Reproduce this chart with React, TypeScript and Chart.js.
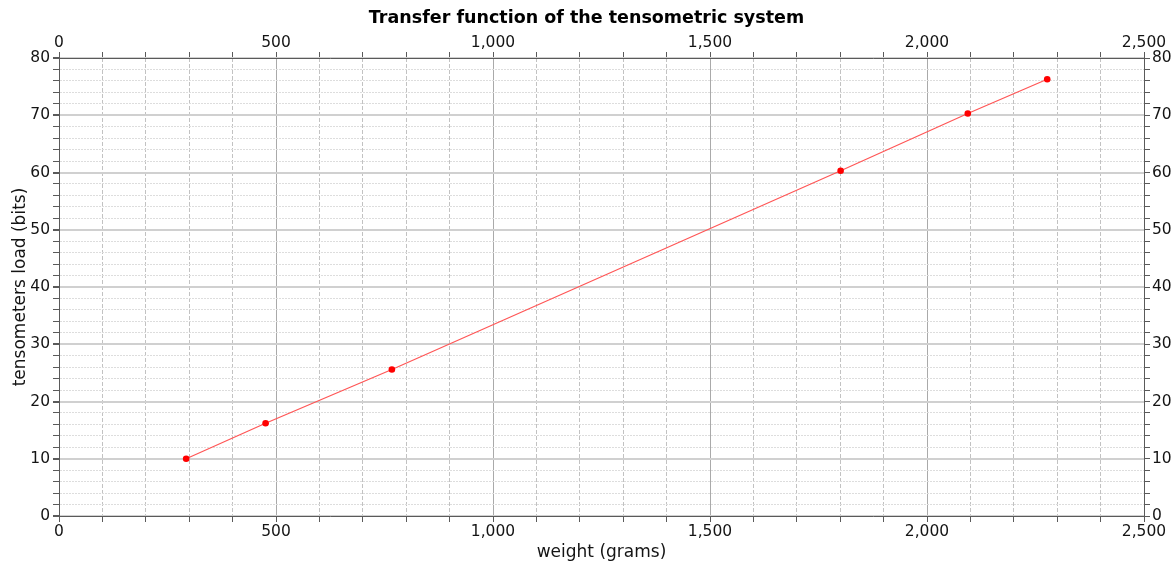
import React, { useEffect, useRef } from "react";
import { Chart, registerables } from "chart.js";

Chart.register(...registerables);

const TITLE = "Transfer function of the tensometric system";
const X_TITLE = "weight (grams)";
const Y_TITLE = "tensometers load (bits)";

const weights = [293, 476, 767, 1801, 2094, 2277];
const loads = [10.0, 16.2, 25.6, 60.3, 70.3, 76.3];

const X_MIN = 0;
const X_MAX = 2500;
const X_STEP = 100;
const X_MAJOR = 500;
const Y_MIN = 0;
const Y_MAX = 80;
const Y_STEP = 2;
const Y_MAJOR = 10;

const FONT = "'DejaVu Sans', Verdana, sans-serif";
const TEXT = "#141414";
const AXIS = "#5a5a5a";

const isMajor = (v: number, m: number) => Math.abs(v % m) < 1e-6;

export default function App() {
  const ref = useRef<HTMLCanvasElement | null>(null);

  useEffect(() => {
    document.body.style.margin = "0";
    const canvas = ref.current;
    if (!canvas) return;

    const xTickCb = (v: any) => (isMajor(Number(v), X_MAJOR) ? Number(v).toLocaleString("en-US") : "");
    const yTickCb = (v: any) => (isMajor(Number(v), Y_MAJOR) ? String(v) : "");

    const tickFont = { family: FONT, size: 15.5 };

    const chart = new Chart(canvas, {
      type: "line",
      data: {
        datasets: [
          {
            data: weights.map((w, i) => ({ x: w, y: loads[i] })),
            borderColor: "#ff5555",
            borderWidth: 1.2,
            pointRadius: 3.3,
            pointBackgroundColor: "#ff0000",
            pointBorderWidth: 0,
            pointHoverRadius: 3.3,
            tension: 0,
            fill: false,
          },
        ],
      },
      options: {
        animation: false,
        responsive: false,
        maintainAspectRatio: false,
        layout: { padding: 0 },
        plugins: {
          legend: { display: false },
          tooltip: { enabled: false },
          title: {
            display: true,
            text: TITLE,
            color: "#000000",
            font: { family: FONT, size: 17.5, weight: "bold", lineHeight: 1 },
            padding: { top: 10, bottom: 2 },
          },
        },
        scales: {
          x: {
            type: "linear",
            position: "bottom",
            min: X_MIN,
            max: X_MAX,
            afterFit: (s: any) => {
              s.height = 51;
            },
            ticks: {
              stepSize: X_STEP,
              autoSkip: false,
              maxRotation: 0,
              minRotation: 0,
              padding: 1,
              color: TEXT,
              font: tickFont,
              callback: xTickCb,
            },
            grid: {
              drawOnChartArea: true,
              drawTicks: true,
              tickLength: 6,
              tickColor: AXIS,
              color: (ctx: any) => (ctx.tick && isMajor(ctx.tick.value, X_MAJOR) ? "#aaaaaa" : "#c2c2c2"),
              lineWidth: 1,
            },
            border: {
              display: true,
              color: AXIS,
              width: 1,
              dash: (ctx: any) => (ctx.tick && !isMajor(ctx.tick.value, X_MAJOR) ? [4, 2] : []),
            },
            title: {
              display: true,
              text: X_TITLE,
              color: TEXT,
              font: { family: FONT, size: 17, lineHeight: 1.2 },
              padding: { top: 0, bottom: 4 },
            },
          },
          x2: {
            type: "linear",
            position: "top",
            min: X_MIN,
            max: X_MAX,
            afterFit: (s: any) => {
              s.height = 28.5;
            },
            ticks: {
              stepSize: X_STEP,
              autoSkip: false,
              maxRotation: 0,
              minRotation: 0,
              padding: 0,
              color: TEXT,
              font: tickFont,
              callback: xTickCb,
            },
            grid: {
              drawOnChartArea: false,
              drawTicks: true,
              tickLength: 6,
              tickColor: AXIS,
            },
            border: { display: true, color: AXIS, width: 1 },
          },
          y: {
            type: "linear",
            position: "left",
            min: Y_MIN,
            max: Y_MAX,
            afterFit: (s: any) => {
              s.width = 59;
            },
            ticks: {
              stepSize: Y_STEP,
              autoSkip: false,
              padding: 3,
              color: TEXT,
              font: tickFont,
              callback: yTickCb,
            },
            grid: {
              drawOnChartArea: true,
              drawTicks: true,
              tickLength: 6,
              tickColor: AXIS,
              color: (ctx: any) => (ctx.tick && isMajor(ctx.tick.value, Y_MAJOR) ? "#d0d0d0" : "#dddddd"),
              lineWidth: (ctx: any) => (ctx.tick && isMajor(ctx.tick.value, Y_MAJOR) ? 2 : 1),
            },
            border: {
              display: true,
              color: AXIS,
              width: 1,
              dash: (ctx: any) => (ctx.tick && !isMajor(ctx.tick.value, Y_MAJOR) ? [2, 1] : []),
            },
            title: {
              display: true,
              text: Y_TITLE,
              color: TEXT,
              font: { family: FONT, size: 17, lineHeight: 1.2 },
              padding: { top: 10, bottom: 0 },
            },
          },
          y2: {
            type: "linear",
            position: "right",
            min: Y_MIN,
            max: Y_MAX,
            afterFit: (s: any) => {
              s.width = 29;
            },
            ticks: {
              stepSize: Y_STEP,
              autoSkip: false,
              padding: 2,
              color: TEXT,
              font: tickFont,
              callback: yTickCb,
            },
            grid: {
              drawOnChartArea: false,
              drawTicks: true,
              tickLength: 6,
              tickColor: AXIS,
            },
            border: { display: true, color: AXIS, width: 1 },
          },
        },
      } as any,
    });

    return () => chart.destroy();
  }, []);

  return (
    <div style={{ position: "absolute", left: 0, top: 0, width: 1173, height: 567, background: "#ffffff" }}>
      <canvas ref={ref} width={1173} height={567} style={{ width: 1173, height: 567, display: "block" }} />
    </div>
  );
}
